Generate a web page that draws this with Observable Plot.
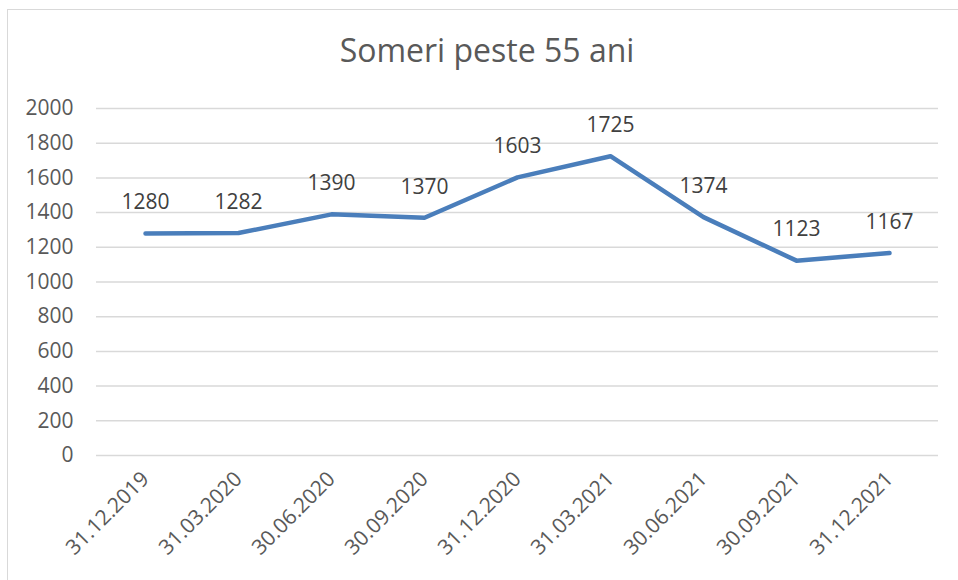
<!DOCTYPE html>
<html>
<head>
<meta charset="utf-8">
<script src="https://cdn.jsdelivr.net/npm/d3@7"></script>
<script src="https://cdn.jsdelivr.net/npm/@observablehq/plot@0.6"></script>
<style>
  html, body { margin: 0; padding: 0; background: #fff; }
  #wrap { position: relative; width: 958px; height: 580px; overflow: hidden; font-family: "Open Sans", sans-serif; }
  #frame { position: absolute; left: 7px; top: 9px; width: 1000px; height: 700px; border: 1.5px solid #d9d9d9; box-sizing: border-box; }
  #title { position: absolute; left: 0; width: 974px; top: 28px; text-align: center; font-size: 32px; color: #595959; font-family: "Open Sans", sans-serif; }
  #chart { position: absolute; left: 0; top: 0; }
</style>
</head>
<body>
<div id="wrap">
  <div id="frame"></div>
  <div id="title">Someri peste 55 ani</div>
  <div id="chart"></div>
</div>
<script>
const dates = ["31.12.2019","31.03.2020","30.06.2020","30.09.2020","31.12.2020","31.03.2021","30.06.2021","30.09.2021","31.12.2021"];
const values = [1280, 1282, 1390, 1370, 1603, 1725, 1374, 1123, 1167];
const yTicks = [0, 200, 400, 600, 800, 1000, 1200, 1400, 1600, 1800, 2000];

const data = dates.map((d, i) => ({date: d, value: values[i]}));

const plot = Plot.plot({
  width: 958,
  height: 580,
  marginTop: 108,
  marginBottom: 125,
  marginLeft: 96,
  marginRight: 20,
  style: {fontFamily: "Open Sans, sans-serif", fontSize: "21px", color: "#595959", background: "transparent"},
  x: {type: "point", domain: dates, padding: 0.5, align: 0.5, label: null},
  y: {domain: [0, 2000], ticks: yTicks, label: null},
  marks: [
    Plot.gridY(yTicks, {stroke: "#d9d9d9", strokeOpacity: 1, strokeWidth: 1.5}),
    Plot.axisY(yTicks, {tickSize: 0, tickPadding: 23, fontSize: 21, fill: "#595959", label: null, tickFormat: d => String(d)}),
    Plot.axisX({tickSize: 0, tickPadding: 20, tickRotate: -45, fontSize: 21, fill: "#595959", label: null}),
    Plot.line(data, {x: "date", y: "value", stroke: "#4a7ebb", strokeWidth: 4.5, strokeLinecap: "round", strokeLinejoin: "round"}),
    Plot.text(data, {x: "date", y: "value", text: d => String(d.value), dy: -31, fontSize: 21, fill: "#404040"})
  ]
});
document.getElementById("chart").appendChild(plot);
</script>
</body>
</html>
